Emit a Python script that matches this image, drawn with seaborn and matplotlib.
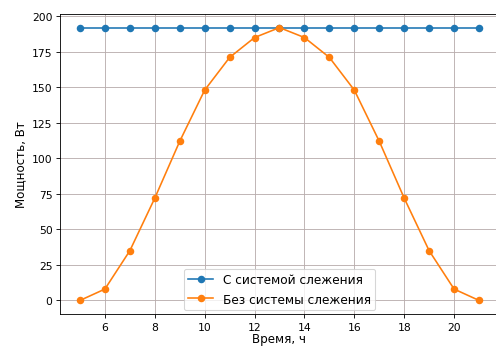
import matplotlib
matplotlib.use("Agg")
import matplotlib.pyplot as plt
import seaborn as sns

hours = [5, 6, 7, 8, 9, 10, 11, 12, 13, 14, 15, 16, 17, 18, 19, 20, 21]
power_tracking = [192] * len(hours)
power_fixed = [0, 8, 35, 72, 112, 148, 171, 185, 192, 185, 171, 148, 112, 72, 35, 8, 0]

label_tracking = "С системой слежения"
label_fixed = "Без системы слежения"

plt.rcParams["font.family"] = ["DejaVu Sans"]

fig = plt.figure(figsize=(6.4, 4.477), dpi=77.5)
ax = fig.add_axes([0.121, 0.092, 0.885, 0.865])

sns.lineplot(x=hours, y=power_tracking, marker="o", markersize=7, markeredgewidth=0,
             color="#1f77b4", label=label_tracking, ax=ax)
sns.lineplot(x=hours, y=power_fixed, marker="o", markersize=7, markeredgewidth=0,
             color="#ff7f0e", label=label_fixed, ax=ax)

ax.set_xlabel("Время, ч", fontsize=11, labelpad=0.5)
ax.set_ylabel("Мощность, Вт", fontsize=11)
ax.set_yticks([0, 25, 50, 75, 100, 125, 150, 175, 200])
ax.grid(True, color="#b8acac", linewidth=0.8)
ax.legend(loc="lower center", fontsize=11.3, borderaxespad=0.3)

fig.savefig("out.png", dpi=77.5)
